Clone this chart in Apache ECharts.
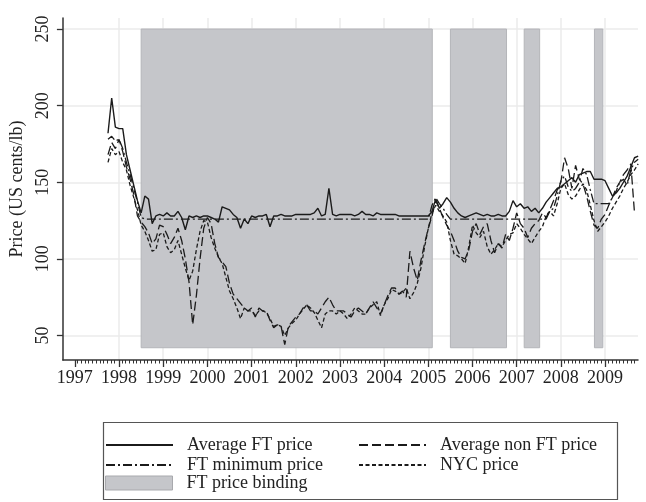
<!DOCTYPE html>
<html><head><meta charset="utf-8">
<script src="https://cdn.jsdelivr.net/npm/echarts@6/dist/echarts.min.js"></script>
<style>html,body{margin:0;padding:0;background:#fff}#c{width:646px;height:502px}</style>
</head><body><div id="c"></div>
<script>
// Monthly observations from Oct 1997 to Oct 2009 (US cents/lb)
const firstYear = 1997, firstMonth = 10;
const avgFT = [
  182, 205, 186,
  185, 185, 168, 158, 148, 138, 130, 141, 139, 123, 128, 129,
  128, 130, 128, 128, 131, 127, 119, 128, 127, 128, 127, 128,
  128, 127, 126, 124, 134, 133, 132, 129, 127, 120, 126, 123,
  128, 127, 128, 128, 129, 121, 128, 128, 129, 128, 128, 128,
  129, 129, 129, 129, 129, 130, 133, 128, 129, 146, 129, 128,
  129, 129, 129, 129, 128, 129, 131, 129, 129, 128, 130, 129,
  129, 129, 129, 129, 128, 128, 128, 128, 128, 128, 128, 128,
  128, 131, 139, 133, 136, 140, 137, 133, 130, 128, 127, 128,
  129, 130, 129, 128, 129, 128, 128, 129, 128, 128, 131, 138,
  134, 136, 133, 134, 131, 133, 130, 133, 137, 140, 143, 146,
  147, 149, 151, 153, 150, 155, 156, 157, 157, 152, 152, 152,
  151, 146, 141, 143, 146, 150, 154, 160, 166, 167
];
const ftMin = [
  178, 180, 177,
  178, 172, 163, 155, 146, 137, 127, 126, 126, 126, 126, 126,
  126, 126, 126, 126, 126, 126, 126, 126, 126, 126, 126, 126,
  126, 126, 126, 126, 126, 126, 126, 126, 126, 126, 126, 126,
  126, 126, 126, 126, 126, 126, 126, 126, 126, 126, 126, 126,
  126, 126, 126, 126, 126, 126, 126, 126, 126, 126, 126, 126,
  126, 126, 126, 126, 126, 126, 126, 126, 126, 126, 126, 126,
  126, 126, 126, 126, 126, 126, 126, 126, 126, 126, 126, 126,
  126, 135, 140, 136, 133, 129, 126, 126, 126, 126, 126, 126,
  126, 126, 126, 126, 126, 126, 126, 126, 126, 126, 126, 126,
  126, 126, 126, 126, 126, 126, 126, 126, 126, 131, 133, 141,
  151, 154, 147, 144, 146, 150, 159, 155, 145, 136, 136, 136,
  136, 136, 140, 144, 150, 152, 148, 158, 163, 165
];
const avgNonFT = [
  168, 176, 172,
  178, 170, 160, 152, 142, 128, 124, 121, 117, 110, 113, 122,
  121, 116, 110, 114, 120, 112, 100, 85, 57, 76, 100, 120,
  127, 123, 110, 101, 98, 95, 84, 77, 74, 71, 68, 66,
  68, 62, 68, 66, 66, 60, 55, 57, 56, 44, 56, 59,
  62, 64, 68, 70, 66, 66, 64, 68, 72, 75, 70, 66,
  66, 66, 64, 62, 66, 68, 66, 64, 68, 72, 68, 64,
  70, 76, 81, 81, 77, 79, 75, 105, 94, 86, 99, 110,
  120, 128, 138, 133, 127, 122, 118, 112, 105, 101, 100, 106,
  118, 123, 116, 121, 123, 112, 104, 110, 107, 116, 112, 120,
  130, 123, 120, 114, 120, 123, 125, 130, 127, 132, 138, 145,
  150, 166, 159, 146, 161, 152, 149, 141, 131, 122, 120, 126,
  129, 135, 140, 146, 150, 155, 158, 162, 130, null
];
const nycPrice = [
  163, 172, 168,
  170, 163, 158, 148, 140, 132, 122, 118, 112, 105, 106, 116,
  117, 108, 104, 106, 112, 103, 94, 86, 92, 106, 118, 125,
  124, 114, 107, 101, 97, 88, 79, 74, 68, 61, 68, 66,
  66, 63, 66, 66, 65, 61, 56, 57, 56, 50, 55, 58,
  60, 64, 67, 70, 68, 65, 60, 55, 64, 66, 66, 64,
  66, 64, 61, 64, 68, 66, 64, 64, 68, 70, 72, 63,
  70, 74, 80, 79, 77, 78, 81, 74, 78, 84, 94, 108,
  120, 130, 135, 131, 128, 124, 112, 103, 102, 100, 97, 108,
  122, 117, 114, 118, 108, 103, 106, 110, 108, 112, 116, 117,
  123, 120, 116, 113, 110, 114, 118, 121, 128, 131, 128, 136,
  146, 149, 142, 139, 141, 145, 149, 145, 135, 125, 118, 121,
  124, 128, 133, 137, 141, 146, 150, 155, 158, 162
];
// Periods when the FT minimum price was binding (decimal years)
const bindingStart = [1998.5, 2005.5, 2007.17, 2008.76];
const bindingEnd = [2005.09, 2006.77, 2007.52, 2008.95];
const bindingLow = 42, bindingHigh = 250;
const yearTicks = [1997, 1998, 1999, 2000, 2001, 2002, 2003, 2004, 2005, 2006, 2007, 2008, 2009];
const yTicks = [50, 100, 150, 200, 250];
const xGridYears = [1998, 1999, 2000, 2001, 2002, 2003, 2004, 2005, 2006, 2007, 2008, 2009];

const xs = avgFT.map((_, i) => firstYear + (firstMonth - 1 + i) / 12);
const pair = arr => arr.map((v, i) => [xs[i], v]);

const FONT = 'Liberation Serif';
const INK = '#1b1b1b';
const lineBase = {type: 'line', symbol: 'none', showSymbol: false, silent: true, z: 3,
  emphasis: {disabled: true}, connectNulls: false, xAxisIndex: 0, yAxisIndex: 0};

const chart = echarts.init(document.getElementById('c'), null, {renderer: 'canvas'});
const legendCommon = {
  orient: 'horizontal', padding: 0, itemWidth: 67, itemHeight: 14, selectedMode: false,
  itemStyle: {opacity: 0},
  textStyle: {fontFamily: FONT, fontSize: 18, color: '#222', padding: [0, 0, 0, 9], lineHeight: 20}
};
const X_MIN = 1996.729, X_MAX = 2009.746;
chart.setOption({
  animation: false,
  backgroundColor: '#fff',
  grid: [
    {left: 62, right: 8, top: 18, bottom: 142, containLabel: false},
    {left: 74, right: 8, top: 18, bottom: 142, containLabel: false}
  ],
  xAxis: [{
    type: 'value', gridIndex: 0, min: X_MIN, max: X_MAX, splitNumber: 13,
    axisLine: {show: true, onZero: false, lineStyle: {color: '#333', width: 1.5}},
    axisTick: {show: true, customValues: yearTicks, length: 7, lineStyle: {color: '#333', width: 1.3}},
    minorTick: {show: false},
    axisLabel: {customValues: yearTicks, margin: 9, fontFamily: FONT, fontSize: 18, color: '#222',
      formatter: v => String(Math.round(v))},
    splitLine: {show: false}, minorSplitLine: {show: false}
  }, {
    // month ticks, starting at 1997
    type: 'value', gridIndex: 1, min: 1997, max: X_MAX, interval: 1,
    axisLine: {show: false, onZero: false}, axisTick: {show: false},
    minorTick: {show: true, splitNumber: 12, length: 3.5, lineStyle: {color: '#333', width: 1}},
    axisLabel: {show: false}, splitLine: {show: false}, minorSplitLine: {show: false}
  }],
  yAxis: [{
    type: 'value', gridIndex: 0, min: 34, max: 257.2, splitNumber: 5,
    name: 'Price (US cents/lb)', nameLocation: 'middle', nameGap: 33, nameRotate: 90,
    nameTextStyle: {fontFamily: FONT, fontSize: 18, color: '#222'},
    axisLine: {show: true, onZero: false, lineStyle: {color: '#333', width: 1.5}},
    axisTick: {show: true, customValues: yTicks, length: 6, lineStyle: {color: '#333', width: 1.3}},
    axisLabel: {customValues: yTicks, rotate: 90, margin: 11, fontFamily: FONT, fontSize: 18, color: '#222'},
    splitLine: {show: false}
  }, {
    type: 'value', gridIndex: 1, min: 34, max: 257.2, show: false
  }],
  legend: [
    Object.assign({}, legendCommon, {left: 105, top: 435, data: ['Average FT price']}),
    Object.assign({}, legendCommon, {left: 358, top: 435, data: ['Average non FT price']}),
    Object.assign({}, legendCommon, {left: 105, top: 455, data: ['FT minimum price']}),
    Object.assign({}, legendCommon, {left: 358, top: 455, data: ['NYC price']}),
    Object.assign({}, legendCommon, {left: 105, top: 473, itemStyle: {}, data: [{name: 'FT price binding', icon: 'rect',
      itemStyle: {color: '#c5c6ca', borderColor: '#a8a9ad', borderWidth: 1, opacity: 1}}]})
  ],
  graphic: [{type: 'rect', left: 101, top: 420, silent: true,
    shape: {width: 514, height: 77}, style: {fill: 'none', stroke: '#555', lineWidth: 1.2}}],
  series: [
    {type: 'line', name: '_grid', data: [], silent: true, z: 0, xAxisIndex: 0, yAxisIndex: 0,
      markLine: {silent: true, symbol: 'none', label: {show: false}, z: 0, animation: false,
        lineStyle: {color: '#ebebeb', width: 1.5, type: 'solid'},
        emphasis: {disabled: true},
        data: xGridYears.map(v => ({xAxis: v})).concat(yTicks.map(v => ({yAxis: v})))}},
    {type: 'line', name: 'FT price binding', data: [], silent: true, z: 1, xAxisIndex: 0, yAxisIndex: 0,
      itemStyle: {color: '#c5c6ca'}, lineStyle: {color: '#c5c6ca'},
      markArea: {silent: true, z: 1,
        itemStyle: {color: '#c5c6ca', borderColor: '#b4b5b9', borderWidth: 1},
        emphasis: {disabled: true},
        data: bindingStart.map((s, i) => [{xAxis: s, yAxis: bindingLow}, {xAxis: bindingEnd[i], yAxis: bindingHigh}])}},
    {type: 'line', name: '_months', data: [], silent: true, xAxisIndex: 1, yAxisIndex: 1},
    Object.assign({}, lineBase, {name: 'FT minimum price', data: pair(ftMin), itemStyle: {color: INK},
      lineStyle: {color: INK, width: 1.3, type: [9, 3, 2, 3]}}),
    Object.assign({}, lineBase, {name: 'NYC price', data: pair(nycPrice), itemStyle: {color: INK},
      lineStyle: {color: INK, width: 1.3, type: [4, 2.5]}}),
    Object.assign({}, lineBase, {name: 'Average non FT price', data: pair(avgNonFT), itemStyle: {color: INK},
      lineStyle: {color: INK, width: 1.3, type: [9, 4]}}),
    Object.assign({}, lineBase, {name: 'Average FT price', data: pair(avgFT), itemStyle: {color: INK},
      lineStyle: {color: INK, width: 1.4, type: 'solid'}})
  ]
});
</script></body></html>
